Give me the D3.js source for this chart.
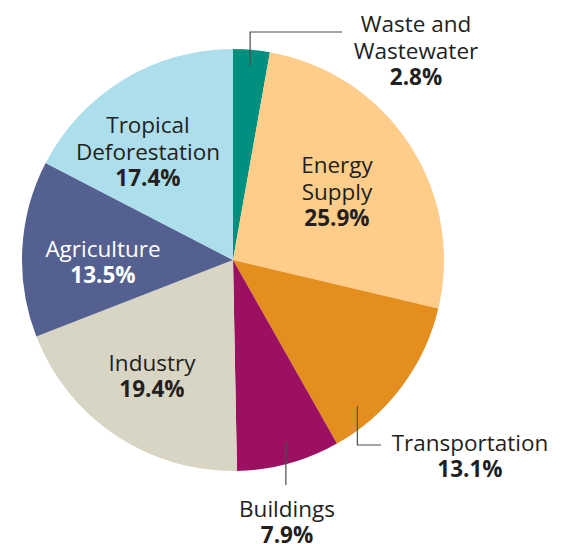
<!DOCTYPE html>
<html>
<head>
<meta charset="utf-8">
<script src="https://cdn.jsdelivr.net/npm/d3@7"></script>
<style>
  body { margin: 0; background: #fff; }
  svg text { font-family: "Open Sans", "Noto Sans", sans-serif; font-size: 22.5px; fill: #231f20; }
</style>
</head>
<body>
<div id="chart"></div>
<script>
// data
const sectors = ["Waste and Wastewater", "Energy Supply", "Transportation", "Buildings", "Industry", "Agriculture", "Tropical Deforestation"];
const shares = [2.8, 25.9, 13.1, 7.9, 19.4, 13.5, 17.4];
const labelLines = [["Waste and", "Wastewater"], ["Energy", "Supply"], ["Transportation"], ["Buildings"], ["Industry"], ["Agriculture"], ["Tropical", "Deforestation"]];
const colors = ["#00907f", "#fecd8a", "#e48e1e", "#9b1060", "#d8d5c4", "#546190", "#addeec"];

// label block centres relative to the pie centre (layout only)
const labelPos = [[183, -209], [104, -68], [237, 196], [54, 262], [-81, 116], [-130, 2], [-85, -108]];
// leader lines: where in the slice they start (fraction of slice, radius) and the path after
const leaders = {
  0: { frac: 0.5, r: 195, to: (p) => [[p[0], -228], [109, -228]] },
  2: { frac: 0.77, r: 192, to: (p) => [[p[0], 185], [148, 185]] },
  3: { frac: 0.47, r: 190, to: (p) => [[p[0], 225]] }
};

const width = 569, height = 544;
const cx = 233, cy = 260, radius = 211;

const svg = d3.select("#chart").append("svg")
  .attr("width", width)
  .attr("height", height);

const g = svg.append("g").attr("transform", `translate(${cx},${cy})`);

const pie = d3.pie().sort(null).value(d => d);
const arcs = pie(shares);
const arc = d3.arc().innerRadius(0).outerRadius(radius);

g.selectAll("path.slice")
  .data(arcs)
  .join("path")
    .attr("class", "slice")
    .attr("d", arc)
    .attr("fill", (d, i) => colors[i]);

// leader lines
Object.keys(leaders).forEach(k => {
  const i = +k, L = leaders[k], a = arcs[i];
  const ang = a.startAngle + L.frac * (a.endAngle - a.startAngle);
  const p = [L.r * Math.sin(ang), -L.r * Math.cos(ang)];
  const pts = [p].concat(L.to(p));
  g.append("path")
    .attr("d", d3.line()(pts))
    .attr("fill", "none")
    .attr("stroke", "#4d4d4f")
    .attr("stroke-width", 1.2);
});

// labels
const lineH = 26.5;
arcs.forEach((a, i) => {
  const lines = labelLines[i];
  const n = lines.length + 1;
  const t = g.append("text")
    .attr("text-anchor", "middle")
    .attr("transform", `translate(${labelPos[i][0]},${labelPos[i][1]})`);
  lines.forEach((s, j) => {
    t.append("tspan")
      .attr("x", 0)
      .attr("y", (j - (n - 1) / 2) * lineH)
      .attr("dy", "0.35em")
      .text(s);
  });
  t.append("tspan")
    .attr("x", 0)
    .attr("y", ((n - 1) - (n - 1) / 2) * lineH)
    .attr("dy", "0.35em")
    .attr("font-weight", "bold")
    .text(d3.format(".1f")(shares[i]) + "%");
  if (i === 5) t.selectAll("tspan").style("fill", "#fff");
});
</script>
</body>
</html>
